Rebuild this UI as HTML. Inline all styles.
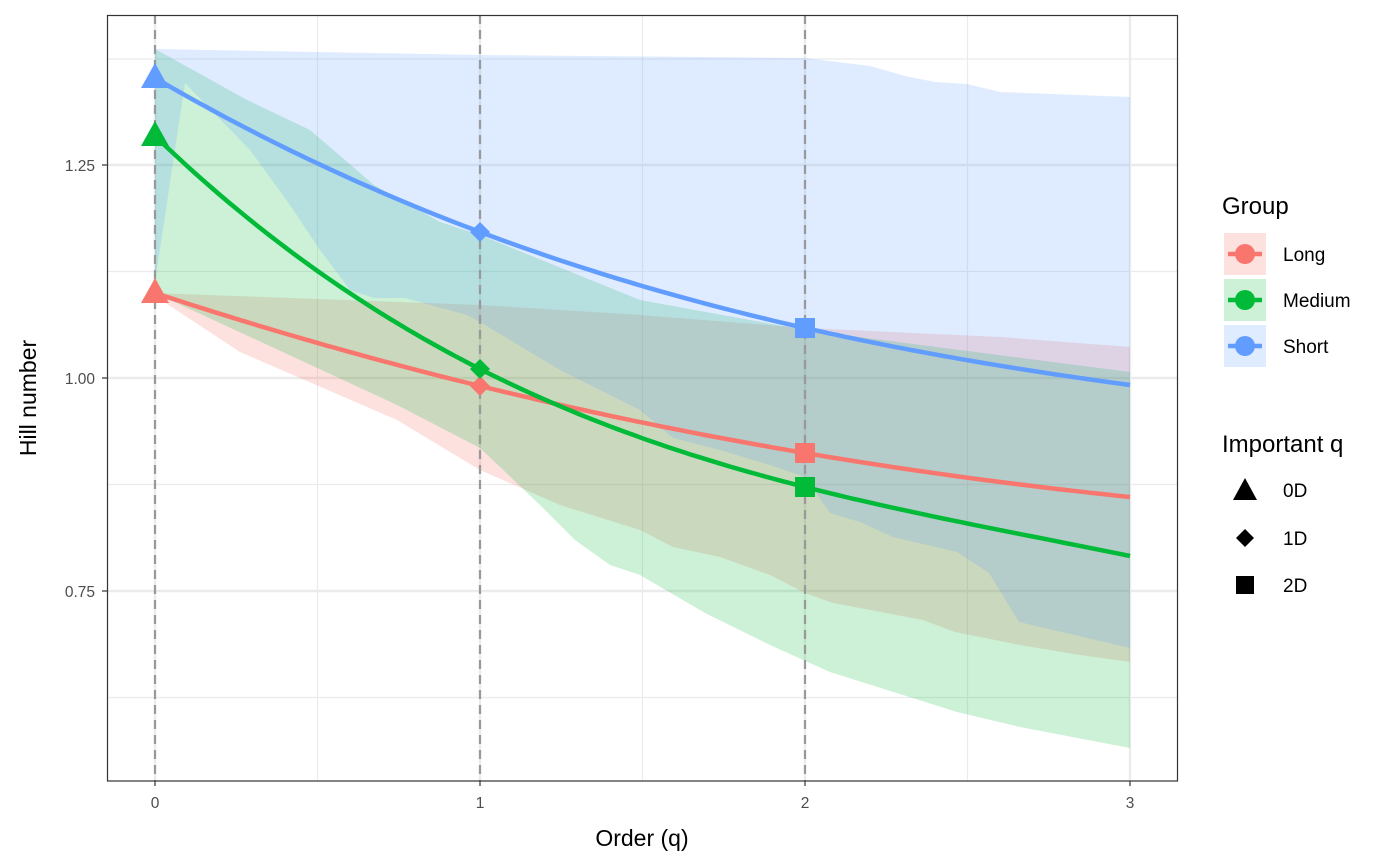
<!DOCTYPE html>
<html><head><meta charset="utf-8"><style>
body{margin:0;background:#fff}
svg{display:block;font-family:"Liberation Sans",sans-serif}
</style></head><body>
<svg id="s" width="1400" height="866" viewBox="0 0 1400 866" xmlns="http://www.w3.org/2000/svg">
<rect x="0" y="0" width="1400" height="866" fill="#fff"/>
<g stroke="#ebebeb" stroke-width="1.2">
<line x1="107" x2="1178" y1="59" y2="59"/><line x1="107" x2="1178" y1="271.5" y2="271.5"/>
<line x1="107" x2="1178" y1="484.5" y2="484.5"/><line x1="107" x2="1178" y1="697.5" y2="697.5"/>
<line y1="15" y2="781" x1="317.5" x2="317.5"/><line y1="15" y2="781" x1="642.5" x2="642.5"/><line y1="15" y2="781" x1="967.5" x2="967.5"/>
</g>
<g stroke="#ebebeb" stroke-width="2.4">
<line x1="107" x2="1178" y1="165" y2="165"/><line x1="107" x2="1178" y1="378" y2="378"/><line x1="107" x2="1178" y1="591" y2="591"/>
<line y1="15" y2="781" x1="155" x2="155"/><line y1="15" y2="781" x1="480" x2="480"/><line y1="15" y2="781" x1="805" x2="805"/><line y1="15" y2="781" x1="1130" x2="1130"/>
</g>
<!-- bands -->
<polygon fill="#F8766D" fill-opacity="0.22" points="155,293 480,305 640,315 805,328 1000,337 1130,347 1130,662 1080,655 1020,645 955,632 923,620 833,603 805,593 770,575 720,557 673,547 640,530 560,505 480,470 397,420 240,352 164,302"/>
<polygon fill="#00BA38" fill-opacity="0.2" points="155,49 247,100 310,130 374,185 440,222 480,235 640,300 805,330 1130,372 1130,748 1020,727 957,712 830,672 770,645 705,613 640,575 610,565 575,540 540,505 480,448 397,405 300,360 155,293"/>
<polygon fill="#619CFF" fill-opacity="0.2" points="155,49 480,55 805,58 870,66 905,76 935,82 967,84 1000,92 1130,97 1130,648 1019,622 989,573 957,552 927,545 893,537 860,522 830,513 805,477 770,465 720,450 673,438 640,410 560,370 480,322 467,315 405,298 374,298 350,290 320,250 290,205 250,150 185,83 155,282"/>
<g stroke="#999" stroke-width="2.2" stroke-dasharray="9,6">
<line y1="15" y2="781" x1="155" x2="155"/><line y1="15" y2="781" x1="480" x2="480"/><line y1="15" y2="781" x1="805" x2="805"/>
</g>
<g id="lines" fill="none" stroke-width="4.5"></g>
<g id="marks"></g>
<rect x="107.5" y="15.5" width="1070" height="765.5" fill="none" stroke="#333" stroke-width="1.2"/>
<!-- ticks -->
<g stroke="#333" stroke-width="1.2">
<line x1="102" x2="107" y1="165" y2="165"/><line x1="102" x2="107" y1="378" y2="378"/><line x1="102" x2="107" y1="591" y2="591"/>
<line y1="781" y2="786" x1="155" x2="155"/><line y1="781" y2="786" x1="480" x2="480"/><line y1="781" y2="786" x1="805" x2="805"/><line y1="781" y2="786" x1="1130" x2="1130"/>
</g>
<g fill="#4d4d4d" font-size="15.5">
<text x="95" y="171" text-anchor="end">1.25</text><text x="95" y="384" text-anchor="end">1.00</text><text x="95" y="597" text-anchor="end">0.75</text>
<text x="155" y="808" text-anchor="middle">0</text><text x="480" y="808" text-anchor="middle">1</text><text x="805" y="808" text-anchor="middle">2</text><text x="1130" y="808" text-anchor="middle">3</text>
</g>
<text x="642" y="846" text-anchor="middle" font-size="23">Order (q)</text>
<text transform="translate(36,398) rotate(-90)" text-anchor="middle" font-size="23">Hill number</text>
<!-- legend -->
<text x="1222" y="214" font-size="24">Group</text>
<rect x="1224" y="233" width="42" height="42" fill="#F8766D" fill-opacity="0.22"/>
<rect x="1224" y="279" width="42" height="42" fill="#00BA38" fill-opacity="0.2"/>
<rect x="1224" y="325" width="42" height="42" fill="#619CFF" fill-opacity="0.2"/>
<g stroke-width="4.5">
<line x1="1228" x2="1262" y1="254" y2="254" stroke="#F8766D"/><circle cx="1245" cy="254" r="10" fill="#F8766D"/>
<line x1="1228" x2="1262" y1="300" y2="300" stroke="#00BA38"/><circle cx="1245" cy="300" r="10" fill="#00BA38"/>
<line x1="1228" x2="1262" y1="346" y2="346" stroke="#619CFF"/><circle cx="1245" cy="346" r="10" fill="#619CFF"/>
</g>
<g font-size="19">
<text x="1283" y="261">Long</text><text x="1283" y="307">Medium</text><text x="1283" y="353">Short</text>
</g>
<text x="1222" y="452" font-size="24">Important q</text>
<polygon points="1245,478 1257,500 1233,500" fill="#000"/>
<polygon points="1245,529 1254,538 1245,547 1236,538" fill="#000"/>
<rect x="1236" y="576" width="18" height="18" fill="#000"/>
<g font-size="19"><text x="1283" y="497">0D</text><text x="1283" y="545">1D</text><text x="1283" y="592">2D</text></g>
</svg>
<script>
function f(v0,v1,v2,v3){var pts=[];
for(var i=0;i<=120;i++){var q=i/40;
var L0=-(q-1)*(q-2)*(q-3)/6,L1=q*(q-2)*(q-3)/2,L2=-q*(q-1)*(q-3)/2,L3=q*(q-1)*(q-2)/6;
var y=v0*L0+v1*L1+v2*L2+v3*L3;pts.push((155+325*q).toFixed(1)+","+y.toFixed(1));}
return pts.join(" ");}
var S=[["#F8766D",293,386,453,497],["#00BA38",136,369,487,556],["#619CFF",78,232,328,385]];
var lg=document.getElementById("lines"),mk=document.getElementById("marks"),h="",m="";
S.forEach(function(s){h+='<polyline stroke="'+s[0]+'" points="'+f(s[1],s[2],s[3],s[4])+'"/>';
m+='<polygon fill="'+s[0]+'" points="155,'+(s[1]-15)+' 169,'+(s[1]+10)+' 141,'+(s[1]+10)+'"/>';
m+='<polygon fill="'+s[0]+'" points="480,'+(s[2]-10)+' 490,'+s[2]+' 480,'+(s[2]+10)+' 470,'+s[2]+'"/>';
m+='<rect fill="'+s[0]+'" x="795" y="'+(s[3]-10)+'" width="20" height="20"/>';});
lg.innerHTML=h;mk.innerHTML=m;
</script>
</body></html>
